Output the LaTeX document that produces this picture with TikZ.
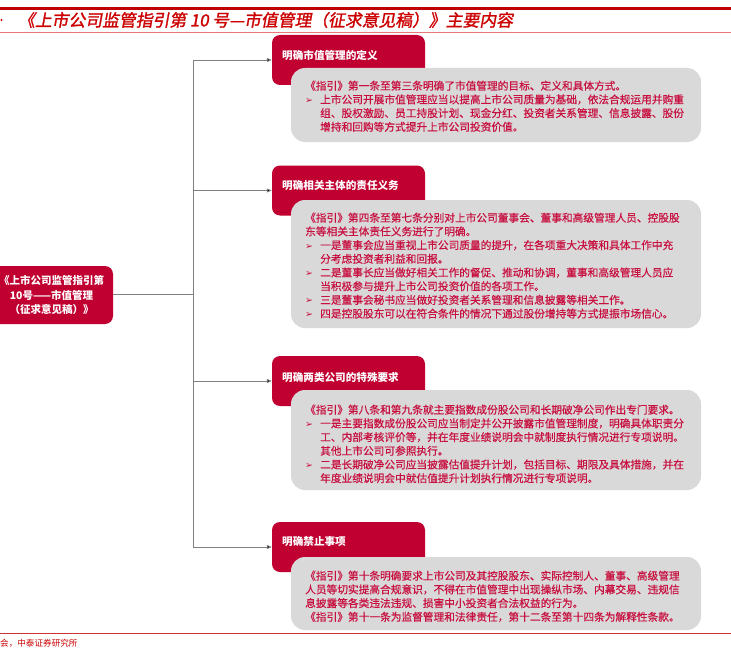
\documentclass[tikz,border=0pt]{standalone}
\usepackage{fontspec}
\setmainfont{Noto Sans CJK SC}
\newfontfamily\cjk{Noto Sans CJK SC}
\newfontfamily\bodyfont{Noto Sans CJK SC}[FakeBold=0.5]
\newfontfamily\titlefont{Noto Sans CJK SC}[FakeSlant=0.18, FakeBold=1.5]
\newfontfamily\dejavu{DejaVu Sans}
\usetikzlibrary{arrows.meta}
\definecolor{hdrred}{RGB}{192,0,48}
\definecolor{bodyred}{RGB}{200,16,64}
\definecolor{titlered}{RGB}{204,0,0}
\definecolor{linered}{RGB}{192,0,0}
\definecolor{thinred}{RGB}{232,120,120}
\definecolor{boxgray}{RGB}{217,217,217}
\definecolor{conngray}{RGB}{128,128,128}
\newcommand{\bul}{\makebox[15pt][l]{\dejavu\fontsize{9.5}{9.5}\selectfont ➢}}
\newcommand{\hang}{\hspace*{15pt}}
\tikzset{
  hdrbox/.style={fill=hdrred, draw=none, rounded corners=8pt, minimum width=153pt, minimum height=50pt, inner sep=0pt},
  hdrtext/.style={text=white, font={\cjk\bfseries\fontsize{10.6}{12}\selectfont}, anchor=west, inner sep=0pt},
  graybox/.style={fill=boxgray, draw=none, rounded corners=14pt, minimum width=410pt, inner sep=0pt},
  bodytext/.style={text=bodyred, font={\bodyfont\fontsize{10.7}{13.7}\selectfont}, align=left, anchor=north west, inner sep=0pt},
  conn/.style={draw=conngray, line width=0.8pt},
  arr/.style={conn, -{Triangle[length=5pt,width=4pt,fill=black]}},
}
\begin{document}
\begin{tikzpicture}[x=1pt,y=-1pt]
\useasboundingbox (0,0) rectangle (731,661);
% top rules and title
\draw[linered, line width=2.5pt] (0,8.5) -- (731,8.5);
\draw[thinred, line width=1pt] (0,32.5) -- (731,32.5);
\fill[titlered] (1.5,20) circle (1.2pt);
\node[anchor=west, inner sep=0pt, text=titlered, font={\titlefont\fontsize{16.8}{18}\selectfont}] (title) at (18,20) {《上市公司监管指引第 10 号—市值管理（征求意见稿）》主要内容};

% root node
\node[fill=hdrred, draw=none, rounded corners=8pt, minimum width=123pt, minimum height=58pt, inner sep=0pt,
      text=white, align=center, font={\cjk\bfseries\fontsize{10.5}{14.5}\selectfont}] (root) at (51.5,295)
      {《上市公司监管指引第\\10号——市值管理\\（征求意见稿）》};

% headers
\node[hdrbox] (h1) at (348.5,60) {};
\node[hdrbox] (h2) at (348.5,190.5) {};
\node[hdrbox] (h3) at (348.5,381) {};
\node[hdrbox] (h4) at (348.5,547) {};
\node[hdrtext] (h1t) at (282,55) {明确市值管理的定义};
\node[hdrtext] (h2t) at (282,185) {明确相关主体的责任义务};
\node[hdrtext] (h3t) at (282,377) {明确两类公司的特殊要求};
\node[hdrtext] (h4t) at (282,542) {明确禁止事项};

% connectors
\coordinate (jr) at (193,294);
\draw[conn] (root.east |- jr) -- (jr);
\draw[conn] (h1.west -| jr) -- (h4.west -| jr);
\draw[arr] (h1.west -| jr) -- (h1.west);
\draw[arr] (h2.west -| jr) -- (h2.west);
\draw[arr] (h3.west -| jr) -- (h3.west);
\draw[arr] (h4.west -| jr) -- (h4.west);

% gray boxes
\node[graybox, minimum height=74pt] (g1) at (496,105) {};
\node[graybox, minimum height=128pt] (g2) at (496,264) {};
\node[graybox, minimum height=100pt] (g3) at (496,440) {};
\node[graybox, minimum height=73pt] (g4) at (496,593.5) {};

\node[bodytext] (b1) at (305,80.5) {%
《指引》第一条至第三条明确了市值管理的目标、定义和具体方式。\\
\bul 上市公司开展市值管理应当以提高上市公司质量为基础，依法合规运用并购重\\
\hang 组、股权激励、员工持股计划、现金分红、投资者关系管理、信息披露、股份\\
\hang 增持和回购等方式提升上市公司投资价值。};

\node[bodytext] (b2) at (305,212.5) {%
《指引》第四条至第七条分别对上市公司董事会、董事和高级管理人员、控股股\\
东等相关主体责任义务进行了明确。\\
\bul 一是董事会应当重视上市公司质量的提升，在各项重大决策和具体工作中充\\
\hang 分考虑投资者利益和回报。\\
\bul 二是董事长应当做好相关工作的督促、推动和协调，董事和高级管理人员应\\
\hang 当积极参与提升上市公司投资价值的各项工作。\\
\bul 三是董事会秘书应当做好投资者关系管理和信息披露等相关工作。\\
\bul 四是控股股东可以在符合条件的情况下通过股份增持等方式提振市场信心。};

\node[bodytext] (b3) at (305,404.5) {%
《指引》第八条和第九条就主要指数成份股公司和长期破净公司作出专门要求。\\
\bul 一是主要指数成份股公司应当制定并公开披露市值管理制度，明确具体职责分\\
\hang 工、内部考核评价等，并在年度业绩说明会中就制度执行情况进行专项说明。\\
\hang 其他上市公司可参照执行。\\
\bul 二是长期破净公司应当披露估值提升计划，包括目标、期限及具体措施，并在\\
\hang 年度业绩说明会中就估值提升计划执行情况进行专项说明。};

\node[bodytext] (b4) at (305,570.5) {%
《指引》第十条明确要求上市公司及其控股股东、实际控制人、董事、高级管理\\
人员等切实提高合规意识，不得在市值管理中出现操纵市场、内幕交易、违规信\\
息披露等各类违法违规、损害中小投资者合法权益的行为。\\
《指引》第十一条为监督管理和法律责任，第十二条至第十四条为解释性条款。};

% bottom rule and source
\draw[linered!80, line width=1.5pt] (0,633.5) -- (731,633.5);
\node[anchor=west, inner sep=0pt, text=titlered, font={\cjk\fontsize{8.6}{10}\selectfont}] (src) at (0,643) {会，中泰证券研究所};
\end{tikzpicture}
\end{document}
